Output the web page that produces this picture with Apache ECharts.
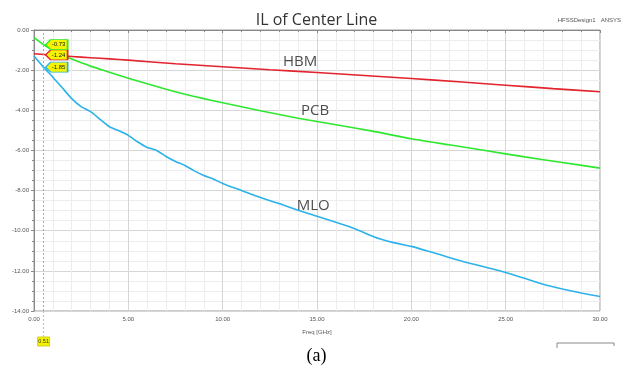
<!DOCTYPE html>
<html><head><meta charset="utf-8">
<script src="https://cdn.jsdelivr.net/npm/echarts@6/dist/echarts.min.js"></script>
<style>html,body{margin:0;padding:0;background:#fff}#c{width:633px;height:374px}</style>
</head><body><div id="c"></div>
<script>
// ---- data ----
const hbmFreq = [0, 1, 2, 3, 4, 5, 7.5, 10, 12.5, 15, 17.5, 20, 22.5, 25, 27.5, 30];
const hbmVals = [-1.18, -1.26, -1.32, -1.38, -1.44, -1.50, -1.68, -1.83, -1.98, -2.12, -2.27, -2.42, -2.58, -2.75, -2.92, -3.08];
const pcbFreq = [0, 0.5, 1, 1.5, 2, 3, 4, 5, 6, 7, 8, 9, 10, 12, 14, 16, 18, 20, 22, 24, 26, 28, 30];
const pcbVals = [-0.37, -0.73, -1.0, -1.25, -1.45, -1.8, -2.1, -2.4, -2.68, -2.95, -3.2, -3.42, -3.62, -4.02, -4.4, -4.72, -5.05, -5.42, -5.72, -6.02, -6.32, -6.6, -6.88];
const mloFreq = [0, 0.5, 1, 1.5, 2, 2.5, 3, 3.5, 4, 4.5, 5, 5.5, 6, 6.5, 7, 7.5, 8, 8.5, 9, 9.5, 10, 11, 12, 13, 14, 15, 16, 17, 18, 19, 20, 21, 22, 23, 24, 25, 26, 27, 28, 29, 30];
const mloVals = [-1.3, -1.85, -2.35, -2.88, -3.42, -3.82, -4.07, -4.45, -4.82, -5.02, -5.25, -5.58, -5.85, -6.0, -6.3, -6.55, -6.75, -7.02, -7.25, -7.42, -7.65, -8.0, -8.35, -8.65, -8.98, -9.28, -9.58, -9.9, -10.3, -10.58, -10.78, -11.05, -11.33, -11.6, -11.83, -12.08, -12.37, -12.67, -12.9, -13.1, -13.28];
const markerFreq = 0.51;
const markerVals = {PCB: -0.73, HBM: -1.24, MLO: -1.85};
const curveLabels = [
  {name: 'HBM', x: 14.1, y: -1.6},
  {name: 'PCB', x: 14.9, y: -4.0},
  {name: 'MLO', x: 14.8, y: -8.75}
];
const titleText = 'IL of Center Line';
const captionText = '(a)';

const colors = {HBM: '#e3232e', PCB: '#2ee82e', MLO: '#2cb2ea'};
const pairs = (f, v) => f.map((x, i) => [x, v[i]]);

const chart = echarts.init(document.getElementById('c'));
const tagPath = 'path://M0,5 L6,0 L26,0 L26,10 L6,10 Z';
function mk(name) {
  return {
    symbol: tagPath, symbolSize: [22, 10], symbolOffset: [13, 0], symbolKeepAspect: false,
    itemStyle: {color: '#f4f400', borderColor: colors[name], borderWidth: 1.2},
    label: {show: true, formatter: markerVals[name].toFixed(2), fontSize: 6, color: '#222', offset: [2, 0]},
    data: [{coord: [markerFreq, markerVals[name]]}]
  };
}
function ser(name, f, v) {
  return {
    name, type: 'line', data: pairs(f, v), showSymbol: false, smooth: 0.2,
    lineStyle: {color: colors[name], width: 1.6}, itemStyle: {color: colors[name]},
    z: 3, markPoint: mk(name), animation: false
  };
}
const series = [ser('HBM', hbmFreq, hbmVals), ser('PCB', pcbFreq, pcbVals), ser('MLO', mloFreq, mloVals)];
series[0].markLine = {
  silent: true, symbol: 'none', animation: false,
  lineStyle: {color: '#aaa', type: [2, 2], width: 1},
  label: {show: false},
  data: [{xAxis: markerFreq}]
};
series.push({
  type: 'scatter', data: curveLabels.map(c => [c.x, c.y, c.name]), symbolSize: 0,
  label: {show: true, formatter: p => p.data[2], fontSize: 15, color: '#222', fontFamily: 'Open Sans', position: 'inside'},
  animation: false, silent: true
});

chart.setOption({
  animation: false,
  title: {text: titleText, left: 'center', top: 7, textStyle: {fontSize: 16, fontWeight: 'normal', color: '#333', fontFamily: 'Open Sans'}},
  grid: {left: 34, right: 33, top: 30, bottom: 63, containLabel: false, outerBoundsMode: 'none', show: true, borderColor: '#999', borderWidth: 1},
  xAxis: {
    type: 'value', min: 0, max: 30, interval: 5,
    name: 'Freq [GHz]', nameLocation: 'middle', nameGap: 18, nameTextStyle: {fontSize: 6, color: '#555'},
    axisLine: {lineStyle: {color: '#888'}}, axisTick: {length: 3, lineStyle: {color: '#888'}},
    minorTick: {show: true, splitNumber: 5, length: 2, lineStyle: {color: '#888'}},
    axisLabel: {fontSize: 6, color: '#555', margin: 5, formatter: v => v.toFixed(2)},
    splitLine: {lineStyle: {color: '#d6d6d6'}},
    minorSplitLine: {show: true, lineStyle: {color: '#ededed'}}
  },
  yAxis: {
    type: 'value', min: -14, max: 0, interval: 2,
    name: 'Y1', nameLocation: 'middle', nameGap: 22, nameRotate: 90, nameTextStyle: {fontSize: 6, color: '#555'},
    axisLine: {show: true, lineStyle: {color: '#888'}}, axisTick: {show: true, length: 3, lineStyle: {color: '#888'}},
    minorTick: {show: true, splitNumber: 4, length: 2, lineStyle: {color: '#888'}},
    axisLabel: {fontSize: 6, color: '#555', margin: 5, formatter: v => v.toFixed(2)},
    splitLine: {lineStyle: {color: '#d6d6d6'}},
    minorSplitLine: {show: true, lineStyle: {color: '#ededed'}}
  },
  series
});

const px = chart.convertToPixel({xAxisIndex: 0, yAxisIndex: 0}, [markerFreq, -14]);
chart.setOption({
  graphic: [
    {type: 'text', right: 12, top: 17, style: {text: 'HFSSDesign1   ANSYS', fontSize: 6, fill: '#555', fontFamily: 'Liberation Sans'}},
    {type: 'line', shape: {x1: px[0], y1: px[1], x2: px[0], y2: px[1] + 26}, style: {stroke: '#bbb', lineDash: [2, 2], lineWidth: 1}},
    {type: 'rect', shape: {x: px[0] - 6, y: px[1] + 26, width: 12, height: 9}, style: {fill: '#f4f400', stroke: '#c8c800', lineWidth: 0.8}},
    {type: 'text', x: px[0], y: px[1] + 30.5, style: {text: markerFreq.toFixed(2), fontSize: 5.5, fill: '#333', align: 'center', verticalAlign: 'middle'}},
    {type: 'polyline', shape: {points: [[557, 348], [557, 343], [614, 343], [614, 346]]}, style: {stroke: '#888', lineWidth: 1, fill: 'none'}},
    {type: 'text', left: 'center', top: 347, style: {text: captionText, fontSize: 18, fill: '#000', fontFamily: 'Liberation Serif'}}
  ]
});
</script></body></html>
